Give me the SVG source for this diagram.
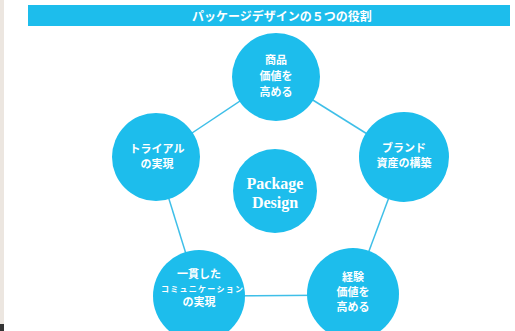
<svg xmlns="http://www.w3.org/2000/svg" width="515" height="331" viewBox="0 0 515 331">
<style>
.node{fill:#1dbdec}
.jp{font-family:"Noto Sans CJK JP","Noto Sans",sans-serif;font-weight:bold;fill:#fff;text-anchor:middle;font-size:11px}
.en{font-family:"Liberation Serif",serif;font-weight:bold;fill:#fff;text-anchor:middle;font-size:16px}
.conn{stroke:#3fbfe8;stroke-width:1.5;fill:none}
</style>
<rect x="0" y="0" width="515" height="331" fill="#fff"/>
<rect x="0" y="0" width="4" height="331" fill="#ece6e0"/>
<rect x="0" y="324" width="4" height="7" fill="#333"/>
<g id="header">
<rect x="28" y="5" width="482" height="21" fill="#1dbdec"/>
<text x="282" y="20.5" class="jp" style="font-size:12px">パッケージデザインの５つの役割</text>
</g>
<g id="connectors">
<line class="conn" x1="276" y1="77" x2="156" y2="157"/>
<line class="conn" x1="276" y1="77" x2="404" y2="157"/>
<line class="conn" x1="156" y1="157" x2="199" y2="296"/>
<line class="conn" x1="404" y1="157" x2="353" y2="294"/>
<line class="conn" x1="199" y1="296" x2="353" y2="295"/>
</g>
<g id="node-top">
<circle class="node" cx="276" cy="77" r="44"/>
<text class="jp" x="276" y="64">商品</text>
<text class="jp" x="276" y="80">価値を</text>
<text class="jp" x="276" y="96">高める</text>
</g>
<g id="node-left">
<circle class="node" cx="156" cy="157" r="44"/>
<text class="jp" x="157" y="152.5">トライアル</text>
<text class="jp" x="157" y="167.5">の実現</text>
</g>
<g id="node-right">
<circle class="node" cx="404" cy="157" r="45"/>
<text class="jp" x="404" y="151.5">ブランド</text>
<text class="jp" x="404" y="167">資産の構築</text>
</g>
<g id="node-center">
<circle class="node" cx="275" cy="191" r="42"/>
<text class="en" x="275" y="189">Package</text>
<text class="en" x="275" y="208">Design</text>
</g>
<g id="node-bottom-left">
<circle class="node" cx="199" cy="296" r="46"/>
<text class="jp" x="199" y="278">一貫した</text>
<text class="jp" x="202" y="291.5" style="font-size:8px" textLength="82" lengthAdjust="spacing">コミュニケーション</text>
<text class="jp" x="199" y="306">の実現</text>
</g>
<g id="node-bottom-right">
<circle class="node" cx="353" cy="294" r="46"/>
<text class="jp" x="353" y="281">経験</text>
<text class="jp" x="353" y="296">価値を</text>
<text class="jp" x="353" y="311">高める</text>
</g>
</svg>
